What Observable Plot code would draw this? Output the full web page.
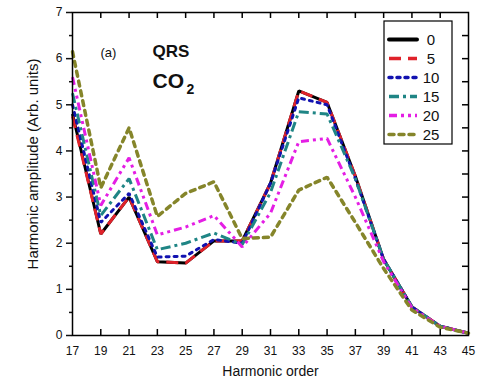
<!DOCTYPE html>
<html>
<head>
<meta charset="utf-8">
<script src="https://cdn.jsdelivr.net/npm/d3@7"></script>
<script src="https://cdn.jsdelivr.net/npm/@observablehq/plot@0.6"></script>
<style>
  html, body { margin: 0; padding: 0; background: #fff; }
  #chart { width: 481px; height: 382px; }
</style>
</head>
<body>
<div id="chart"></div>
<script>
// Harmonic orders (x) and amplitudes for each series (label = parameter value)
const orders = [17, 19, 21, 23, 25, 27, 29, 31, 33, 35, 37, 39, 41, 43, 45];
const s0  = [4.80, 2.20, 3.00, 1.60, 1.57, 2.05, 2.05, 3.30, 5.30, 5.05, 3.45, 1.65, 0.62, 0.20, 0.05];
const s5  = [4.75, 2.20, 3.00, 1.60, 1.57, 2.05, 2.05, 3.30, 5.30, 5.05, 3.45, 1.65, 0.62, 0.20, 0.05];
const s10 = [5.00, 2.45, 3.08, 1.70, 1.72, 2.08, 2.00, 3.30, 5.15, 5.00, 3.40, 1.65, 0.62, 0.20, 0.05];
const s15 = [5.25, 2.60, 3.40, 1.86, 2.00, 2.22, 1.97, 3.10, 4.85, 4.80, 3.40, 1.65, 0.62, 0.20, 0.05];
const s20 = [5.60, 2.82, 3.85, 2.18, 2.35, 2.60, 1.92, 2.65, 4.20, 4.27, 3.00, 1.60, 0.60, 0.20, 0.05];
const s25 = [6.15, 3.20, 4.50, 2.58, 3.08, 3.33, 2.10, 2.13, 3.15, 3.43, 2.45, 1.45, 0.55, 0.18, 0.05];
const seriesNames = ["0", "5", "10", "15", "20", "25"];
const seriesValues = [s0, s5, s10, s15, s20, s25];
const yTicks = [0, 1, 2, 3, 4, 5, 6, 7];
const yMinorTicks = [0.5, 1.5, 2.5, 3.5, 4.5, 5.5, 6.5];
const yRightTicks = [0.5, 1, 1.5, 2, 2.5, 3, 3.5, 4, 4.5, 5, 5.5, 6, 6.5];
const xInnerTicks = [19, 21, 23, 25, 27, 29, 31, 33, 35, 37, 39, 41, 43];

const styles = [
  {stroke: "#000000", dash: null, width: 3},
  {stroke: "#e0222a", dash: "12,7", width: 3},
  {stroke: "#1212b0", dash: "3,5", width: 3},
  {stroke: "#1f8585", dash: "10,4,3,4", width: 3},
  {stroke: "#e41ee4", dash: "8,4,3,4,3,4", width: 3},
  {stroke: "#85852a", dash: "5,5", width: 3.5}
];

const table = seriesNames.map((name, k) => orders.map((x, i) => ({series: name, x, y: seriesValues[k][i]})));

const font = "'Liberation Sans', Arial, Helvetica, sans-serif";
const W = 481, H = 382, ML = 72, MR = 13, MT = 12, MB = 47;
const plotW = W - ML - MR, plotH = H - MT - MB, tickLen = 6;

const lineMarks = table.map((rows, k) => Plot.line(rows, {
  x: "x", y: "y",
  stroke: styles[k].stroke,
  strokeWidth: styles[k].width,
  strokeDasharray: styles[k].dash,
  strokeLinecap: k === 5 || k === 2 ? "round" : "butt",
  strokeLinejoin: "miter"
}));

const chart = Plot.plot({
  width: W,
  height: H,
  marginLeft: ML,
  marginRight: MR,
  marginTop: MT,
  marginBottom: MB,
  x: {domain: [17, 45]},
  y: {domain: [0, 7]},
  style: {fontFamily: font, fontSize: "12px", color: "#111", background: "#fff"},
  marks: [
    ...lineMarks,
    Plot.axisY(yTicks, {anchor: "left", tickSize: 6, tickPadding: 4, label: null, fontSize: 12, strokeWidth: 1.5}),
    Plot.axisY(yMinorTicks, {anchor: "left", tickSize: 3, fill: "none", label: null, strokeWidth: 1.5}),
    Plot.axisX(orders, {anchor: "bottom", tickSize: 0, tickPadding: 11, label: null, fontSize: 12}),
    // inward ticks on top, bottom and right
    Plot.ruleX(xInnerTicks, {x: d => d, y1: 7, y2: 7, dy: 0, stroke: "#000", strokeWidth: 1.5, insetBottom: -tickLen}),
    Plot.ruleX(xInnerTicks, {x: d => d, y1: 0, y2: 0, stroke: "#000", strokeWidth: 1.5, insetTop: -tickLen}),
    Plot.ruleY(yRightTicks, {y: d => d, x1: 45, x2: 45, stroke: "#000", strokeWidth: 1.5, insetLeft: -tickLen}),
    Plot.frame({stroke: "#000", strokeWidth: 1.5}),
    Plot.text(["Harmonic order"], {frameAnchor: "bottom", dy: 40, fontSize: 14, fill: "#111"}),
    Plot.text(["(a)"], {frameAnchor: "top-left", textAnchor: "start", dx: 28, dy: 35, fontSize: 13, fill: "#111"}),
    Plot.text(["QRS"], {frameAnchor: "top-left", textAnchor: "start", dx: 80, dy: 32, fontSize: 17, fontWeight: "bold", fill: "#111"}),
    Plot.text(["CO"], {frameAnchor: "top-left", textAnchor: "start", dx: 80, dy: 61, fontSize: 21, fontWeight: "bold", fill: "#111"}),
    Plot.text(["2"], {frameAnchor: "top-left", textAnchor: "start", dx: 114, dy: 72, fontSize: 14, fontWeight: "bold", fill: "#111"})
  ]
});

const svg = d3.select(chart);

// Y axis title
svg.append("text")
  .attr("transform", "translate(33,164) rotate(-90)")
  .attr("text-anchor", "middle")
  .attr("dy", "0.35em")
  .attr("font-family", font)
  .attr("font-size", 15)
  .attr("fill", "#111")
  .text("Harmonic amplitude (Arb. units)");

// In-plot legend box (top right)
const lg = svg.append("g").attr("class", "legend");
lg.append("rect")
  .attr("x", 384).attr("y", 21).attr("width", 68).attr("height", 123)
  .attr("fill", "#fff").attr("stroke", "#000").attr("stroke-width", 1.2);
seriesNames.forEach((name, k) => {
  const yy = 39.5 + k * 19;
  lg.append("line")
    .attr("x1", 389).attr("x2", 417).attr("y1", yy).attr("y2", yy)
    .attr("stroke", styles[k].stroke)
    .attr("stroke-width", k === 0 ? 4 : 3.5)
    .attr("stroke-dasharray", styles[k].dash)
    .attr("stroke-linecap", k === 0 || k === 5 || k === 2 ? "round" : "butt");
  lg.append("text")
    .attr("x", 431).attr("y", yy)
    .attr("dy", "0.35em")
    .attr("font-family", font)
    .attr("font-size", 15)
    .attr("fill", "#111")
    .text(name);
});

document.getElementById("chart").appendChild(chart);
</script>
</body>
</html>
